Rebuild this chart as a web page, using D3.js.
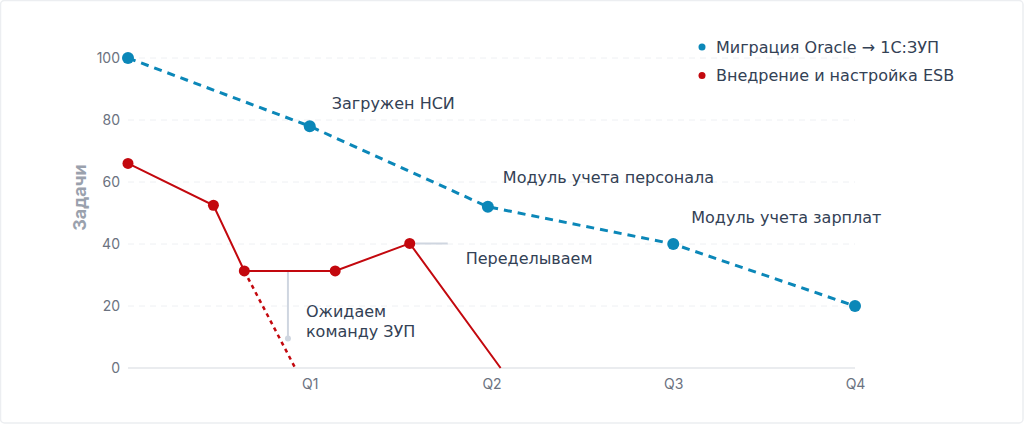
<!DOCTYPE html>
<html>
<head>
<meta charset="utf-8">
<script src="https://cdn.jsdelivr.net/npm/d3@7"></script>
<style>
  html, body { margin: 0; padding: 0; background: #fff; }
  svg { display: block; }
  .tick text { font-family: Inter, "Noto Sans", sans-serif; font-size: 14px; fill: #6b7280; }
  .note { font-family: "DejaVu Sans", sans-serif; font-size: 16px; fill: #334155; }
</style>
</head>
<body>
<div id="chart"></div>
<script>
// data: x in quarters (0 = start), y = tasks
var migrationX = [0, 1, 1.98, 3, 4]
var migrationY = [100, 78, 52, 40, 20]
var esbX = [0, 0.47, 0.64, 1.14, 1.55, 2.05]
var esbY = [66, 52.5, 31.3, 31.3, 40.2, 0]
var esbBranchX = [0.64, 0.92]
var esbBranchY = [31.3, 0]
var quarterTicks = [1, 2, 3, 4]
var quarterLabels = ['Q1', 'Q2', 'Q3', 'Q4']
var yTicks = [0, 20, 40, 60, 80, 100]
var seriesNames = ['Миграция Oracle → 1C:ЗУП', 'Внедрение и настройка ESB']
var migrationNotes = ['', 'Загружен НСИ', 'Модуль учета персонала', 'Модуль учета зарплат', '']

var W = 1024, H = 424
var blue = '#0b87b8', red = '#c3080e', grey = '#cfd6e0'

var svg = d3.select('#chart').append('svg').attr('width', W).attr('height', H)

svg.append('rect')
  .attr('x', 0.5).attr('y', 0.5).attr('width', W - 1.5).attr('height', H - 1.5)
  .attr('rx', 4).attr('fill', '#fff').attr('stroke', '#eceef1').attr('stroke-width', 1.5)

var x = d3.scaleLinear().domain([0, 4]).range([128, 855])
var y = d3.scaleLinear().domain([0, 100]).range([368, 58])

// grid
svg.append('g').selectAll('line').data(yTicks.filter(function(d){ return d > 0 }))
  .enter().append('line')
  .attr('x1', x(0)).attr('x2', x(4))
  .attr('y1', function(d){ return y(d) }).attr('y2', function(d){ return y(d) })
  .attr('stroke', '#eef0f3').attr('stroke-dasharray', '6,5')

svg.append('line')
  .attr('x1', x(0)).attr('x2', x(4)).attr('y1', y(0)).attr('y2', y(0))
  .attr('stroke', '#e3e6ea').attr('stroke-width', 1.5)

// axes
var yAxis = svg.append('g').attr('transform', 'translate(' + (x(0) - 8) + ',0)')
  .call(d3.axisLeft(y).tickValues(yTicks).tickSize(0).tickPadding(0))
yAxis.select('.domain').remove()
yAxis.selectAll('text').attr('dy', '0.35em')

var xAxis = svg.append('g').attr('transform', 'translate(0,' + (y(0) + 9) + ')')
  .call(d3.axisBottom(x).tickValues(quarterTicks).tickSize(0).tickPadding(0)
    .tickFormat(function(d, i){ return quarterLabels[i] }))
xAxis.select('.domain').remove()
xAxis.selectAll('text').attr('dy', '0.85em')

svg.append('text')
  .attr('transform', 'translate(86,' + y(55) + ') rotate(-90)')
  .attr('text-anchor', 'middle')
  .style('font-family', 'Inter, "Noto Sans", sans-serif')
  .style('font-size', '18px').style('font-weight', 700).style('fill', '#9aa1ad')
  .text('Задачи')

var line = d3.line()
  .x(function(d){ return x(d[0]) })
  .y(function(d){ return y(d[1]) })

// gray annotation guides
var pA = [esbX[2], esbY[2]], pB = [esbX[4], esbY[4]]
var guideX = x(0.88)
svg.append('line')
  .attr('x1', guideX).attr('x2', guideX).attr('y1', y(pA[1])).attr('y2', y(9.5))
  .attr('stroke', grey).attr('stroke-width', 2)
svg.append('circle').attr('cx', guideX).attr('cy', y(9.5)).attr('r', 3).attr('fill', grey)
svg.append('line')
  .attr('x1', x(pB[0])).attr('x2', x(pB[0]) + 38).attr('y1', y(pB[1])).attr('y2', y(pB[1]))
  .attr('stroke', grey).attr('stroke-width', 2)

// ESB series
svg.append('path')
  .datum(d3.zip(esbBranchX, esbBranchY))
  .attr('d', line).attr('fill', 'none')
  .attr('stroke', red).attr('stroke-width', 2.5).attr('stroke-dasharray', '4,4')

svg.append('path')
  .datum(d3.zip(esbX, esbY))
  .attr('d', line).attr('fill', 'none')
  .attr('stroke', red).attr('stroke-width', 2)

svg.append('g').selectAll('circle')
  .data(d3.zip(esbX, esbY).slice(0, esbX.length - 1))
  .enter().append('circle')
  .attr('cx', function(d){ return x(d[0]) }).attr('cy', function(d){ return y(d[1]) })
  .attr('r', 5.5).attr('fill', red)

// migration series
var mig = d3.zip(migrationX, migrationY)
svg.append('path')
  .datum(mig)
  .attr('d', line).attr('fill', 'none')
  .attr('stroke', blue).attr('stroke-width', 3).attr('stroke-dasharray', '8,6')

svg.append('g').selectAll('circle')
  .data(mig).enter().append('circle')
  .attr('cx', function(d){ return x(d[0]) }).attr('cy', function(d){ return y(d[1]) })
  .attr('r', 6).attr('fill', blue)

// annotations on the migration line
var noteOffsets = [[0, 0], [22, -17], [15, -24], [18, -21], [0, 0]]
svg.append('g').selectAll('text')
  .data(mig).enter().append('text')
  .attr('class', 'note')
  .attr('x', function(d, i){ return x(d[0]) + noteOffsets[i][0] })
  .attr('y', function(d, i){ return y(d[1]) + noteOffsets[i][1] })
  .text(function(d, i){ return migrationNotes[i] })

svg.append('text').attr('class', 'note')
  .attr('x', x(pB[0]) + 56).attr('y', y(pB[1]) + 21)
  .text('Переделываем')

var wait = svg.append('text').attr('class', 'note')
  .attr('x', guideX + 18).attr('y', y(pA[1]) + 46)
wait.append('tspan').text('Ожидаем')
wait.append('tspan').attr('x', guideX + 18).attr('dy', 20).text('команду ЗУП')

// legend
var legend = svg.append('g').attr('transform', 'translate(702,47)')
var items = legend.selectAll('g').data(seriesNames).enter().append('g')
  .attr('transform', function(d, i){ return 'translate(0,' + i * 28.5 + ')' })
items.append('circle').attr('r', 3.5)
  .attr('fill', function(d, i){ return i === 0 ? blue : red })
items.append('text').attr('class', 'note')
  .attr('x', 14).attr('dy', '0.35em')
  .text(function(d){ return d })
</script>
</body>
</html>
